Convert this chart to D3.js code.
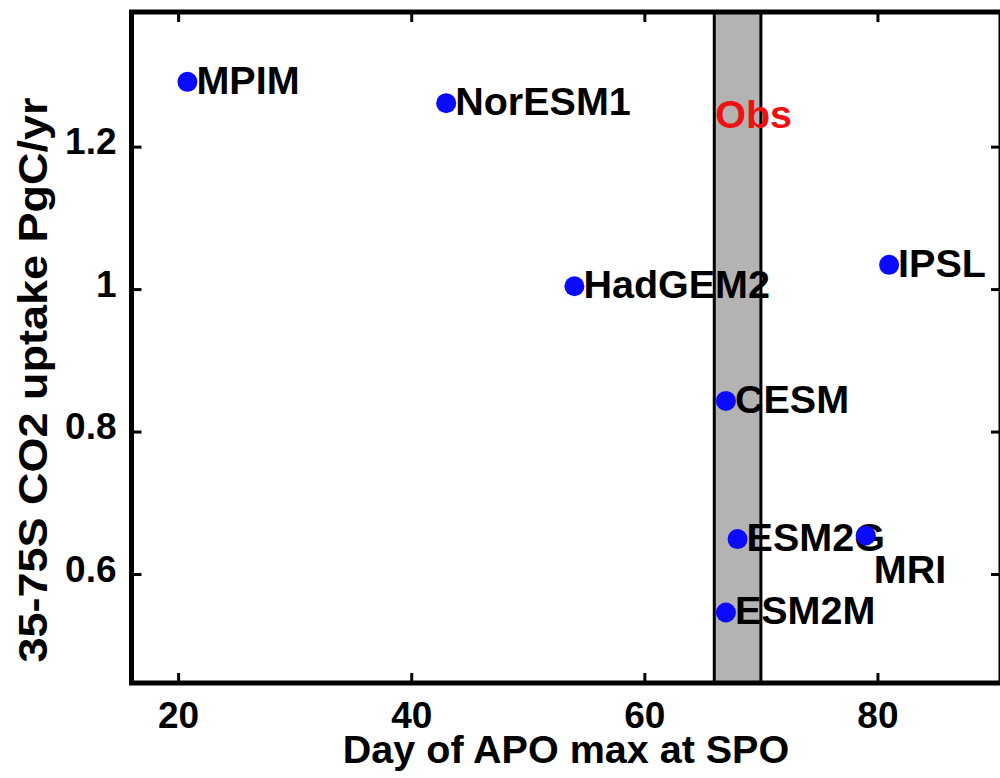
<!DOCTYPE html>
<html>
<head>
<meta charset="utf-8">
<script src="https://cdn.jsdelivr.net/npm/d3@7"></script>
<style>
body { margin: 0; background: #fff; }
text { font-family: "Liberation Sans", Arial, Helvetica, sans-serif; font-weight: bold; }
</style>
</head>
<body>
<svg id="chart" width="1000" height="778"></svg>
<script>
// model results
var models = ["MPIM", "NorESM1", "HadGEM2", "IPSL", "CESM", "ESM2G", "MRI", "ESM2M"];
var dayMax = [20.8, 43, 54, 81, 67, 68, 79, 67];
var uptake = [1.291, 1.261, 1.004, 1.034, 0.843, 0.649, 0.654, 0.546];

// observed range of the APO maximum day
var obsRange = [66, 70];

var xTicks = [20, 40, 60, 80];
var yTicks = [0.6, 0.8, 1, 1.2];

var svg = d3.select("#chart");

var frame = {left: 131.5, right: 1001, top: 12, bottom: 683};

var xScale = d3.scaleLinear()
    .domain([16, 90.6])
    .range([frame.left, frame.right]);

var yScale = d3.scaleLinear()
    .domain([0.447, 1.389])
    .range([frame.bottom, frame.top]);

// obs band
svg.append("rect")
    .attr("x", xScale(obsRange[0]))
    .attr("y", frame.top)
    .attr("width", xScale(obsRange[1]) - xScale(obsRange[0]))
    .attr("height", frame.bottom - frame.top)
    .attr("fill", "#b3b3b3")
    .attr("stroke", "#000")
    .attr("stroke-width", 3);

// axes, ticks pointing inward on all four sides
var xAxis = d3.axisBottom(xScale).tickValues(xTicks).tickSizeInner(-10).tickSizeOuter(0);
var xAxisTop = d3.axisTop(xScale).tickValues(xTicks).tickSizeInner(-10).tickSizeOuter(0).tickFormat("");
var yAxis = d3.axisLeft(yScale).tickValues(yTicks).tickSizeInner(-10).tickSizeOuter(0).tickPadding(15).tickFormat(d3.format("~g"));
var yAxisRight = d3.axisRight(yScale).tickValues(yTicks).tickSizeInner(-10).tickSizeOuter(0).tickFormat("");

var gx = svg.append("g").attr("transform", "translate(0," + frame.bottom + ")").call(xAxis);
svg.append("g").attr("transform", "translate(0," + frame.top + ")").call(xAxisTop);
var gy = svg.append("g").attr("transform", "translate(" + frame.left + ",0)").call(yAxis);
svg.append("g").attr("transform", "translate(" + frame.right + ",0)").call(yAxisRight);

svg.selectAll(".domain").remove();
svg.selectAll(".tick line").attr("stroke", "#000").attr("stroke-width", 3);
gx.selectAll(".tick text").attr("font-size", 37).attr("fill", "#000").attr("dy", 0).attr("y", 45);
gy.selectAll(".tick text").attr("font-size", 37).attr("fill", "#000").attr("dy", "0.3em").attr("y", -4);

// frame
svg.append("rect")
    .attr("x", frame.left)
    .attr("y", frame.top)
    .attr("width", frame.right - frame.left)
    .attr("height", frame.bottom - frame.top)
    .attr("fill", "none")
    .attr("stroke", "#000")
    .attr("stroke-width", 5);

svg.append("text")
    .text("Obs")
    .attr("x", xScale(obsRange[0]) + 1)
    .attr("y", frame.top + 116)
    .attr("font-size", 39.5)
    .attr("fill", "#ee1111");

// points and their labels
models.forEach(function(m, i) {
    var px = xScale(dayMax[i]);
    var py = yScale(uptake[i]);
    svg.append("circle")
        .attr("cx", px)
        .attr("cy", py)
        .attr("r", 10)
        .attr("fill", "#0a0aff");
    var below = (m == "MRI");
    svg.append("text")
        .text(m)
        .attr("x", below ? px + 8 : px + 9)
        .attr("y", below ? py + 47 : py + 12)
        .attr("font-size", 39.5)
        .attr("fill", "#000");
});

// axis titles
svg.append("text")
    .text("Day of APO max at SPO")
    .attr("x", 566)
    .attr("y", 763)
    .attr("text-anchor", "middle")
    .attr("font-size", 39.5)
    .attr("fill", "#000");

svg.append("g")
    .attr("transform", "translate(47,380)")
    .append("text")
    .text("35-75S CO2 uptake PgC/yr")
    .attr("text-anchor", "middle")
    .attr("transform", "rotate(-90)")
    .attr("font-size", 40)
    .attr("textLength", 565)
    .attr("lengthAdjust", "spacingAndGlyphs")
    .attr("fill", "#000");
</script>
</body>
</html>
